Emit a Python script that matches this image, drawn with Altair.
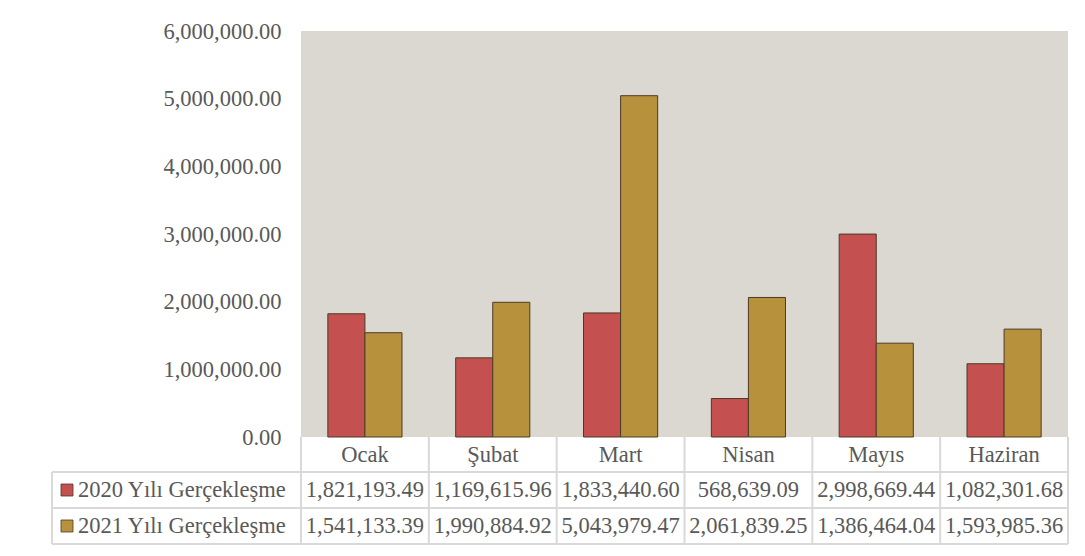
import altair as alt
import pandas as pd

months = ["Ocak", "Şubat", "Mart", "Nisan", "Mayıs", "Haziran"]
series = ["2020 Yılı Gerçekleşme", "2021 Yılı Gerçekleşme"]
v2020 = [1821193.49, 1169615.96, 1833440.60, 568639.09, 2998669.44, 1082301.68]
v2021 = [1541133.39, 1990884.92, 5043979.47, 2061839.25, 1386464.04, 1593985.36]
y_ticks = [0, 1000000, 2000000, 3000000, 4000000, 5000000, 6000000]
colors = ["#c4514f", "#b8913c"]

rows = []
for m, a, b in zip(months, v2020, v2021):
    rows.append({"month": m, "series": series[0], "value": a})
    rows.append({"month": m, "series": series[1], "value": b})
df = pd.DataFrame(rows)
df_months = pd.DataFrame({"month": months})
df_series = pd.DataFrame({"series": series})

FONT = "'Liberation Serif', 'Times New Roman', 'DejaVu Serif', serif"
FS = 22.5
TXT = "#595959"
LINE = "#d9d9d9"
W, H = 767, 406

color = alt.Color("series:N", scale=alt.Scale(domain=series, range=colors), legend=None)

bars = alt.Chart(df).mark_bar(stroke="#4d3a26", strokeWidth=1).encode(
    x=alt.X("month:N", sort=months, axis=None,
            scale=alt.Scale(paddingInner=0.42, paddingOuter=0.21)),
    xOffset=alt.XOffset("series:N", sort=series,
                        scale=alt.Scale(paddingInner=0, paddingOuter=0)),
    y=alt.Y("value:Q", scale=alt.Scale(domain=[0, 6000000], nice=False),
            axis=alt.Axis(values=y_ticks, format=",.2f", title=None, grid=False,
                          ticks=False, domain=False, labelFontSize=FS,
                          labelPadding=20, labelColor=TXT, labelFont=FONT)),
    color=color,
)

tab_x = alt.X("month:N", sort=months, axis=None,
              scale=alt.Scale(paddingInner=0, paddingOuter=0))
row_y = alt.Y("series:N", axis=None,
              scale=alt.Scale(type="point", domain=series, range=[459, 495], padding=0))

header = alt.Chart(df_months).mark_text(font=FONT, fontSize=FS, color=TXT, baseline="middle").encode(
    x=tab_x, y=alt.value(423.5), text="month:N")

cells = alt.Chart(df).mark_text(font=FONT, fontSize=FS, color=TXT, baseline="middle").encode(
    x=tab_x, y=row_y, text=alt.Text("value:Q", format=",.2f"))

leg_text = alt.Chart(df_series).mark_text(font=FONT, fontSize=FS, color=TXT, baseline="middle",
                                          align="left").encode(
    x=alt.value(-223), y=row_y, text="series:N")

leg_sq = alt.Chart(df_series).mark_square(size=144, opacity=1, stroke="#4d3a26",
                                          strokeWidth=0.8).encode(
    x=alt.value(-234), y=row_y, color=color)

vlines = alt.Chart(df_months).mark_rule(color=LINE, strokeWidth=2).encode(
    x=alt.X("month:N", sort=months, axis=None, bandPosition=0,
            scale=alt.Scale(paddingInner=0, paddingOuter=0)),
    y=alt.value(H), y2=alt.value(513))

one = df_months.head(1)
right_line = alt.Chart(one).mark_rule(color=LINE, strokeWidth=2).encode(
    x=alt.value(W), y=alt.value(H), y2=alt.value(513))
left_line = alt.Chart(one).mark_rule(color=LINE, strokeWidth=2).encode(
    x=alt.value(-249), y=alt.value(441), y2=alt.value(513))
h1 = alt.Chart(one).mark_rule(color=LINE, strokeWidth=2).encode(
    x=alt.value(-249), x2=alt.value(W), y=alt.value(441))
h2 = alt.Chart(one).mark_rule(color=LINE, strokeWidth=2).encode(
    x=alt.value(-249), x2=alt.value(W), y=alt.value(477))
h3 = alt.Chart(one).mark_rule(color=LINE, strokeWidth=2).encode(
    x=alt.value(-249), x2=alt.value(W), y=alt.value(513))

chart = alt.layer(
    bars, vlines, right_line, left_line, h1, h2, h3, header, cells, leg_text, leg_sq
).resolve_scale(x="independent", y="independent").properties(
    width=W, height=H,
    background="white",
    autosize=alt.AutoSizeParams(type="none"),
    padding={"left": 293, "top": 23, "right": 9, "bottom": 115},
).configure_view(fill="#dad8d0", stroke=None)

chart.save("out.html", embed_options={"renderer": "svg", "actions": False})
